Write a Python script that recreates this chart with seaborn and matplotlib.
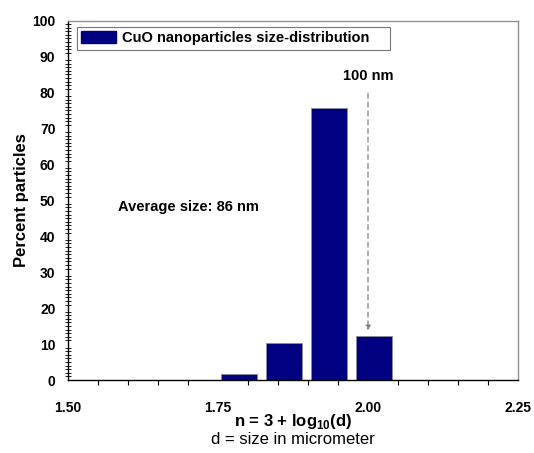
import matplotlib
matplotlib.use("Agg")
import matplotlib.pyplot as plt
from matplotlib.ticker import MultipleLocator, FixedLocator
from matplotlib.patches import Patch
import seaborn as sns
import pandas as pd

# Data
n_values = [1.785, 1.86, 1.935, 2.01]
percent = [1.6, 10.4, 75.6, 12.3]
x_ticks = [1.50, 1.75, 2.00, 2.25]
x_tick_labels = ["1.50", "1.75", "2.00", "2.25"]
y_ticks = [0, 10, 20, 30, 40, 50, 60, 70, 80, 90, 100]

df = pd.DataFrame({"n": n_values, "percent": percent})

sns.set_theme(style="white")
plt.rcParams["font.family"] = ["Liberation Sans", "DejaVu Sans"]
plt.rcParams["text.color"] = "black"
plt.rcParams["axes.labelcolor"] = "black"
plt.rcParams["xtick.color"] = "black"
plt.rcParams["ytick.color"] = "black"
plt.rcParams["mathtext.fontset"] = "custom"
plt.rcParams["mathtext.rm"] = "Liberation Sans"
plt.rcParams["mathtext.bf"] = "Liberation Sans:bold"

fig = plt.figure(figsize=(5.34, 4.53), dpi=100)
ax = fig.add_axes([68 / 534, 1 - 380 / 453, (518 - 68) / 534, (380 - 20.5) / 453])

sns.barplot(data=df, x="n", y="percent", native_scale=True, width=0.82,
            color="#000080", saturation=1, edgecolor="#8a8a99", linewidth=0.6, ax=ax)

ax.set_xlim(1.50, 2.25)
ax.set_ylim(0, 100)
ax.xaxis.set_major_locator(FixedLocator(x_ticks))
ax.set_xticklabels(x_tick_labels)
ax.xaxis.set_minor_locator(MultipleLocator(0.05))
ax.yaxis.set_major_locator(FixedLocator(y_ticks))
ax.yaxis.set_minor_locator(MultipleLocator(1))

ax.tick_params(axis="both", which="major", direction="out", length=6, width=1,
               color="black", labelcolor="black", labelsize=10, pad=3)
ax.tick_params(axis="x", which="minor", direction="out", length=3.5, width=0.8, color="black", bottom=True)
ax.tick_params(axis="y", which="minor", direction="inout", length=4, width=0.6, color="black", left=True)
ax.tick_params(axis="x", which="major", pad=9)
for lab in ax.get_xticklabels() + ax.get_yticklabels():
    lab.set_fontweight("bold")

for s in ["left", "bottom"]:
    ax.spines[s].set_color("black")
    ax.spines[s].set_linewidth(1)
for s in ["top", "right"]:
    ax.spines[s].set_color("#909090")
    ax.spines[s].set_linewidth(1)

ax.set_ylabel("Percent particles", fontsize=12, fontweight="bold", labelpad=2, color="black")
ax.set_xlabel("")
ax.text(0.5, -0.115, r"n = 3 + log$_{\mathbf{10}}$(d)", transform=ax.transAxes, ha="center",
        va="center", fontsize=12, fontweight="bold", color="black")
ax.text(0.5, -0.165, "d = size in micrometer", transform=ax.transAxes, ha="center",
        va="center", fontsize=12, color="black")

ax.text(1.583, 48.0, "Average size: 86 nm", fontsize=10.5, fontweight="bold", ha="left",
        va="center", color="black")

ax.annotate("", xy=(2.00, 13.0), xytext=(2.00, 80.5),
            arrowprops=dict(arrowstyle="-|>", linestyle=(0, (4, 3)), color="#808080",
                        lw=0.9, mutation_scale=7))
ax.text(2.00, 84.5, "100 nm", fontsize=10.5, fontweight="bold", ha="center", va="center",
        color="black")

handle = Patch(facecolor="#000080", edgecolor="#000080")
leg = ax.legend([handle], ["CuO nanoparticles size-distribution    "], loc="upper left",
                bbox_to_anchor=(0.02, 0.982), frameon=True, fancybox=False,
                prop={"weight": "bold", "size": 10.5}, handlelength=2.4, handleheight=0.9,
                borderpad=0.3, handletextpad=0.4, borderaxespad=0)
leg.get_frame().set_edgecolor("#555555")
leg.get_frame().set_linewidth(0.8)
for t in leg.get_texts():
    t.set_color("black")

fig.savefig("out.png", dpi=100)
